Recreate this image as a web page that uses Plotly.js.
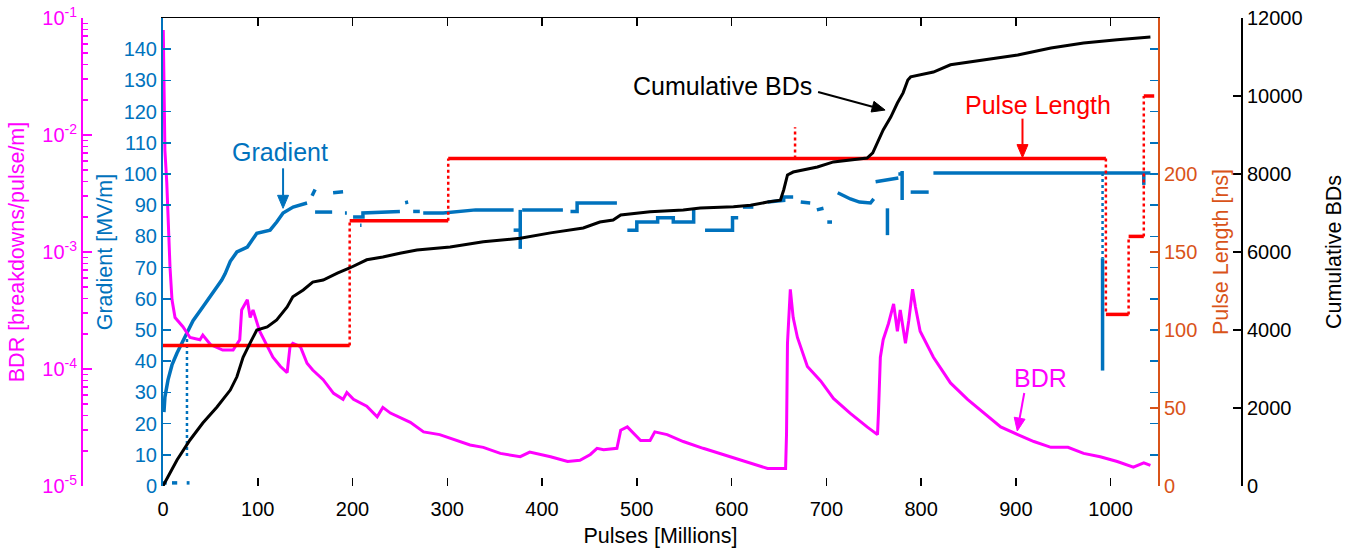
<!DOCTYPE html>
<html>
<head>
<meta charset="utf-8">
<script src="https://cdn.plot.ly/plotly-3.0.1.min.js"></script>
<style>html,body{margin:0;padding:0;background:#fff}#chart{width:1346px;height:548px}</style>
</head>
<body>
<div id="chart"></div>
<script>
// ---- tick labels ----
const xTicks = [0,100,200,300,400,500,600,700,800,900,1000];
const gradTicks = [0,10,20,30,40,50,60,70,80,90,100,110,120,130,140];
const bdrTickVals = [1e-5,1e-4,1e-3,1e-2,1e-1];
const bdrTickText = ['10<sup>-5</sup>','10<sup>-4</sup>','10<sup>-3</sup>','10<sup>-2</sup>','10<sup>-1</sup>'];
const bdrMinorDigits = [2,3,4,5,6,7,8,9];
const plTicks = [0,50,100,150,200];
const cumTicks = [0,2000,4000,6000,8000,10000,12000];

// ---- BDR [breakdowns/pulse/m] ----
const bdrX = [0.3,1,2,4,5.3,7.4,9.5,12.7,21,28.5,39,42,50,63,74,81,83,89,92,95,102,110,116,124,131,134,137,145,152,158,169,180,190,194,201,215,226,232,240,261,275,292,310,324,338,356,377,387,409,427,440,451,458,465,479,483,490,504,514,519,532,549,570,602,638,657,658,659,662,665,669.5,680,694,707.5,725,743,754,755,757,760,765.6,771,775,778,783.5,787,791,794,799,813,831,849,866,884,902,919,937,955,971.5,989,1007,1024,1035,1042];
const bdrY = [0.079,0.025,7.4e-3,3.9e-3,2.0e-3,7.4e-4,3.9e-4,2.75e-4,2.3e-4,1.86e-4,1.78e-4,1.95e-4,1.62e-4,1.45e-4,1.45e-4,1.78e-4,3.2e-4,3.9e-4,2.75e-4,3.2e-4,2.1e-4,1.55e-4,1.26e-4,1.05e-4,9.3e-5,1.55e-4,1.66e-4,1.55e-4,1.12e-4,9.8e-5,8.1e-5,6.2e-5,5.5e-5,6.3e-5,5.5e-5,4.8e-5,3.9e-5,4.7e-5,4.2e-5,3.5e-5,2.9e-5,2.75e-5,2.45e-5,2.24e-5,2.14e-5,1.9e-5,1.78e-5,1.95e-5,1.78e-5,1.62e-5,1.66e-5,1.86e-5,2.1e-5,2.04e-5,2.1e-5,3.0e-5,3.2e-5,2.45e-5,2.45e-5,2.9e-5,2.75e-5,2.4e-5,2.1e-5,1.74e-5,1.41e-5,1.41e-5,2.8e-5,1.66e-4,4.8e-4,2.75e-4,1.86e-4,1.05e-4,7.9e-5,5.6e-5,4.2e-5,3.2e-5,2.75e-5,4.2e-5,1.26e-4,1.78e-4,2.45e-4,3.6e-4,2.1e-4,3.2e-4,1.66e-4,2.6e-4,4.8e-4,3.4e-4,2.1e-4,1.26e-4,7.6e-5,5.5e-5,4.2e-5,3.2e-5,2.75e-5,2.4e-5,2.14e-5,2.14e-5,1.9e-5,1.78e-5,1.62e-5,1.45e-5,1.58e-5,1.5e-5];

// ---- Gradient [MV/m] (null = gap in the record) ----
const gradX = [0,4,null,9.5,15,null,25,28,null,
  1,2,5.3,9.5,14.8,20,25.3,31.7,42,53,62,65.5,71,78,89,99,113,120,126.7,137.3,152,null,
  157.3,160.5,null,160.5,178.5,null,179.5,190,null,192,194,null,200.6,211,211,239.7,250,null,
  255.5,258.7,null,264,271,null,274.6,295.7,330,356,370,null,208,209.5,null,370,377,null,377,377,null,
  379,422,null,430,437,437,479,null,490,500,500,522,522,538.5,538.5,560,560,null,
  572,601,601,607,null,612,623,null,638,655,655,665,null,673,683,null,690,697,null,701,706,null,
  712,718,725.4,735,746.6,750,null,752,765,776,null,764.5,764.5,null,776,780,780,780,null,789,808,null,
  813,1042,null,991.5,991.5,null,1035,1035];
const gradY = [1,1,null,1,1,null,1,1,null,
  23.7,28.5,34,38.8,42.6,45.8,49,53,57.4,61.9,66,68,72,75,76.6,81,82,84.6,87.5,89.4,90.7,null,
  93,95,null,87.8,87.8,null,94,94.3,null,87.5,87.5,null,86.2,86.2,87.5,88,88,null,
  90.8,91,null,88,88,null,87.5,87.5,88.5,88.5,88.5,null,83.6,83.6,null,82,82,null,88.5,76,null,
  88.5,88.5,null,88,88,90.7,90.7,null,82,82,84.6,84.6,86,86,84.6,84.6,88.5,null,
  82,82,86,86,null,89.4,89.4,null,91,91.5,92.6,92.6,null,91,90.7,null,88.5,89,null,84.6,84.6,null,
  94,93,92,91,90.7,92,null,97.5,98,98.7,null,89,80.4,null,100,100,101,91.7,null,94.2,94.2,null,
  100.3,100.3,null,73,37,null,100.3,96.5];
// dotted transitions of the gradient record
const gradDotX = [25.3,25.3,null,991.5,991.5];
const gradDotY = [49,9,null,100.3,73];

// ---- Cumulative BDs ----
const cumX = [0,14.8,28.5,42,57,71,78,84.5,92,99,110,120,131,137,148,158,169,184,197,215,232,250,268,303,338,356,377,409,443.5,461,475,483,514,549,567,602,620,638,651.5,655,659,665,690.6,707.5,725,743,749,754,760,768,775,781,786,789,813,831,866,902,937,971.5,1007,1042];
const cumY = [0,667,1180,1615,2025,2460,2800,3300,3670,4000,4080,4260,4590,4850,5025,5230,5280,5460,5590,5800,5870,5970,6050,6130,6260,6300,6350,6490,6615,6770,6820,6950,7030,7080,7130,7160,7200,7280,7330,7590,7975,8050,8180,8310,8360,8410,8540,8800,9130,9460,9820,10080,10410,10490,10615,10800,10920,11050,11230,11360,11440,11510];

// ---- Pulse Length [ns] ----
const plStart = [0,197,301,995,1019,1035];
const plEnd = [197,301,995,1019,1035,1046];
const plValue = [90,170,210,110,160,250];
const plBlipX = 667;
const plBlipValue = 230;

// colours
const MAG = '#FF00FF', BLUE = '#0072BD', ORANGE = '#D95319', RED = '#FF0000', BLACK = '#000000';

// build pulse-length steps from the arrays
const plSolidX = [], plSolidY = [], plDotX = [], plDotY = [];
for (let i = 0; i < plValue.length; i++) {
  plSolidX.push(plStart[i], plEnd[i], null);
  plSolidY.push(plValue[i], plValue[i], null);
  if (i > 0) {
    plDotX.push(plStart[i], plStart[i], null);
    plDotY.push(plValue[i-1], plValue[i], null);
  }
}
plDotX.push(plBlipX, plBlipX);
plDotY.push(plValue[2], plBlipValue);

const bdrMinor = [];
bdrTickVals.slice(0, -1).forEach(d => bdrMinorDigits.forEach(k => bdrMinor.push(d * k)));

const traces = [
  {x: gradX, y: gradY, yaxis: 'y', mode: 'lines', line: {color: BLUE, width: 3.5}, connectgaps: false, hoverinfo: 'skip'},
  {x: gradDotX, y: gradDotY, yaxis: 'y', mode: 'lines', line: {color: BLUE, width: 2.5, dash: 'dot'}, connectgaps: false, hoverinfo: 'skip'},
  {x: bdrX, y: bdrY, yaxis: 'y2', mode: 'lines', line: {color: MAG, width: 3}, hoverinfo: 'skip'},
  {x: plDotX, y: plDotY, yaxis: 'y3', mode: 'lines', line: {color: RED, width: 2.5, dash: 'dot'}, connectgaps: false, hoverinfo: 'skip'},
  {x: plSolidX, y: plSolidY, yaxis: 'y3', mode: 'lines', line: {color: RED, width: 3.5}, connectgaps: false, hoverinfo: 'skip'},
  {x: cumX, y: cumY, yaxis: 'y4', mode: 'lines', line: {color: BLACK, width: 3}, hoverinfo: 'skip'},
  // carriers for the top frame axis and the right-hand gradient tick marks
  {x: [null], y: [null], xaxis: 'x2', yaxis: 'y', mode: 'lines', hoverinfo: 'skip'},
  {x: [null], y: [null], xaxis: 'x', yaxis: 'y5', mode: 'lines', hoverinfo: 'skip'}
];

const FONT = 'Liberation Sans, Arial, Helvetica, sans-serif';
const L = 163/1346, R = 1158/1346;
const tickF = 20, titleF = 21.5, annF = 25;
const py = p => (486 - p) / 468; // paper fraction of a pixel row inside the plot

// arrows as shapes: head anchored in data coords, tail offset in px (y up)
function arrow(xa, ya, yref, dx, dy, color) {
  const len = Math.hypot(dx, dy), ux = -dx/len, uy = -dy/len; // tail->head unit
  const hl = 13, hw = 5.5;
  const bx = -ux*hl, by = -uy*hl, nx = -uy, ny = ux;
  const common = {xref: 'x', yref: yref, xsizemode: 'pixel', ysizemode: 'pixel', xanchor: xa, yanchor: ya};
  return [
    Object.assign({type: 'path', path: `M${dx},${dy} L${bx},${by}`, line: {color: color, width: 2}}, common),
    Object.assign({type: 'path', path: `M0,0 L${bx+nx*hw},${by+ny*hw} L${bx-nx*hw},${by-ny*hw} Z`, fillcolor: color, line: {color: color, width: 1}}, common)
  ];
}

const layout = {
  width: 1346, height: 548,
  margin: {l: 0, r: 0, t: 18, b: 62},
  paper_bgcolor: '#ffffff', plot_bgcolor: 'rgba(0,0,0,0)',
  showlegend: false,
  font: {family: FONT, size: tickF, color: BLACK},
  xaxis: {
    domain: [L, R], range: [0, 1050], tickmode: 'array', tickvals: xTicks,
    ticks: 'inside', ticklen: 8, tickwidth: 1.5, tickcolor: BLACK,
    showline: false, showgrid: false, zeroline: false, ticklabelstandoff: 9,
    tickfont: {size: tickF, color: BLACK},
    title: {text: 'Pulses [Millions]', font: {size: titleF, color: BLACK}, standoff: 9}
  },
  xaxis2: {
    overlaying: 'x', side: 'top', anchor: 'y', range: [0, 1050], tickmode: 'array', tickvals: xTicks,
    showticklabels: false, ticks: 'inside', ticklen: 8, tickwidth: 1.5, tickcolor: BLACK,
    showline: true, linecolor: BLACK, linewidth: 1.5, showgrid: false, zeroline: false
  },
  yaxis: {
    range: [0, 150], tickmode: 'array', tickvals: gradTicks,
    ticks: 'inside', ticklen: 8, tickwidth: 1.5, tickcolor: BLUE,
    showline: true, linecolor: BLUE, linewidth: 2, showgrid: false, zeroline: false,
    tickfont: {size: tickF, color: BLUE},
    title: {text: 'Gradient [MV/m]', font: {size: titleF, color: BLUE}, standoff: 5}
  },
  yaxis2: {
    type: 'log', range: [-5, -1], overlaying: 'y', anchor: 'free', position: 82/1346, side: 'left',
    tickmode: 'array', tickvals: bdrTickVals, ticktext: bdrTickText,
    ticks: 'inside', ticklen: 9, tickwidth: 1.5, tickcolor: MAG,
    minor: {tickmode: 'array', tickvals: bdrMinor, ticks: 'inside', ticklen: 5, tickwidth: 1.5, tickcolor: MAG, showgrid: false},
    showline: true, linecolor: MAG, linewidth: 2, showgrid: false, zeroline: false,
    tickfont: {size: tickF, color: MAG},
    title: {text: 'BDR [breakdowns/pulse/m]', font: {size: titleF, color: MAG}, standoff: 11}
  },
  yaxis3: {
    range: [0, 300], overlaying: 'y', anchor: 'x', side: 'right',
    tickmode: 'array', tickvals: plTicks,
    ticks: 'inside', ticklen: 8, tickwidth: 1.5, tickcolor: ORANGE,
    showline: true, linecolor: ORANGE, linewidth: 2, showgrid: false, zeroline: false,
    tickfont: {size: tickF, color: ORANGE},
    title: {text: 'Pulse Length [ns]', font: {size: titleF, color: ORANGE}, standoff: 17}
  },
  yaxis4: {
    range: [0, 12000], overlaying: 'y', anchor: 'free', position: 1242/1346, side: 'right',
    tickmode: 'array', tickvals: cumTicks, tickformat: 'd',
    ticks: 'inside', ticklen: 8, tickwidth: 1.5, tickcolor: BLACK,
    showline: true, linecolor: BLACK, linewidth: 2, showgrid: false, zeroline: false,
    tickfont: {size: tickF, color: BLACK},
    title: {text: 'Cumulative BDs', font: {size: titleF, color: BLACK}, standoff: 28}
  },
  yaxis5: {
    range: [0, 150], overlaying: 'y', anchor: 'x', side: 'right', tickmode: 'array', tickvals: gradTicks,
    showticklabels: false, ticks: 'inside', ticklen: 8, tickwidth: 1.5, tickcolor: BLUE,
    showline: false, showgrid: false, zeroline: false
  },
  shapes: [].concat(
    arrow(762, 9640, 'y4', -67, 18, BLACK),
    arrow(907, 210.5, 'y3', 0, 39, RED),
    arrow(126.7, 89, 'y', 0, 40, BLUE),
    arrow(901.5, py(431), 'paper', 7, 38, MAG)
  ),
  annotations: [
    {text: 'Cumulative BDs', xref: 'x', yref: 'paper', x: 590, y: py(86), xanchor: 'center', yanchor: 'middle', showarrow: false, font: {size: annF, color: BLACK}},
    {text: 'Pulse Length', xref: 'x', yref: 'paper', x: 923, y: py(105), xanchor: 'center', yanchor: 'middle', showarrow: false, font: {size: annF, color: RED}},
    {text: 'Gradient', xref: 'x', yref: 'paper', x: 123.5, y: py(152), xanchor: 'center', yanchor: 'middle', showarrow: false, font: {size: annF, color: BLUE}},
    {text: 'BDR', xref: 'x', yref: 'paper', x: 926, y: py(378), xanchor: 'center', yanchor: 'middle', showarrow: false, font: {size: annF, color: MAG}}
  ]
};

Plotly.newPlot('chart', traces, layout, {staticPlot: true, displayModeBar: false});
</script>
</body>
</html>
